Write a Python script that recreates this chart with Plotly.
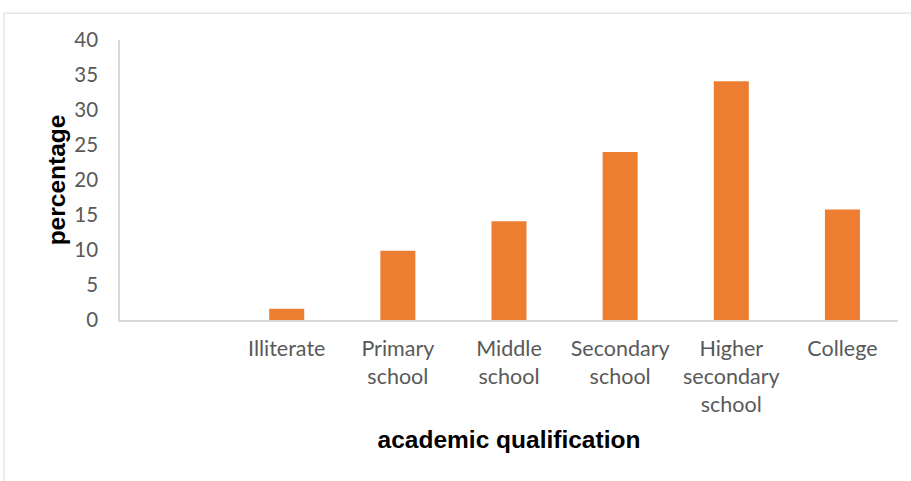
import plotly.graph_objects as go

# Share of respondents by academic qualification (%)
categories = [" ", "Illiterate", "Primary<br>school", "Middle<br>school",
              "Secondary<br>school", "Higher<br>secondary<br>school", "College"]
percentages = [None, 1.6, 9.9, 14.1, 24.0, 34.1, 15.8]
y_ticks = [0, 5, 10, 15, 20, 25, 30, 35, 40]

BAR_COLOR = "#ED7D31"
AXIS_COLOR = "#D9D9D9"
LABEL_COLOR = "#595959"

fig = go.Figure(
    go.Bar(
        x=categories,
        y=percentages,
        marker=dict(color=BAR_COLOR, line=dict(width=0)),
        width=0.315,
        hoverinfo="x+y",
    )
)

fig.update_layout(
    width=911,
    height=481,
    margin=dict(l=120, r=13, t=40, b=161),
    plot_bgcolor="white",
    paper_bgcolor="white",
    showlegend=False,
    font=dict(family="Lato, Carlito, sans-serif", color=LABEL_COLOR, size=20),
)

fig.update_xaxes(
    type="category",
    categoryorder="array",
    categoryarray=categories,
    showline=True,
    linecolor=AXIS_COLOR,
    linewidth=2,
    showgrid=False,
    ticks="",
    tickfont=dict(size=21.5, color=LABEL_COLOR),
    ticklabelstandoff=8,
    title=dict(
        text="<b>academic qualification</b>",
        font=dict(family="Liberation Sans, Arial, sans-serif", size=24.5, color="black"),
        standoff=15,
    ),
)

fig.update_yaxes(
    range=[0, 40],
    tickvals=y_ticks,
    showline=True,
    linecolor=AXIS_COLOR,
    linewidth=1.5,
    showgrid=False,
    zeroline=False,
    ticks="",
    tickfont=dict(size=20.5, color=LABEL_COLOR),
    ticklabelstandoff=16,
    title=dict(
        text="<b>percentage</b>",
        font=dict(family="Liberation Sans, Arial, sans-serif", size=24.5, color="black"),
        standoff=2,
    ),
)

# Light outer frame around the chart area
fig.add_shape(
    type="rect",
    xref="paper", yref="paper",
    x0=-0.149, x1=1.2, y0=-0.7, y1=1.096,
    line=dict(color=AXIS_COLOR, width=1),
    fillcolor="rgba(0,0,0,0)",
    layer="below",
)

fig.write_html("out.html")
